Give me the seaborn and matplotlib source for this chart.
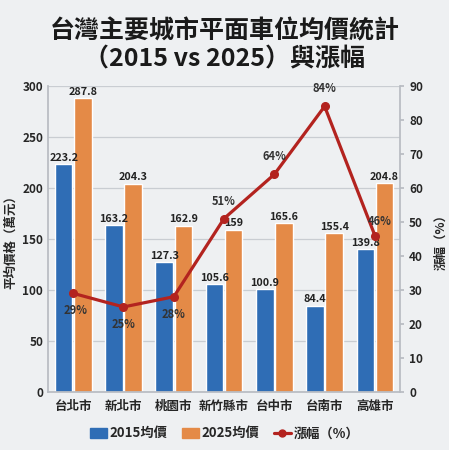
import numpy as np
import pandas as pd
import matplotlib
matplotlib.use("Agg")
import matplotlib.pyplot as plt
import seaborn as sns
from matplotlib.lines import Line2D
from matplotlib.patches import Patch

# data
cities = ["台北市", "新北市", "桃園市", "新竹縣市", "台中市", "台南市", "高雄市"]
price_2015 = [223.2, 163.2, 127.3, 105.6, 100.9, 84.4, 139.8]
price_2025 = [287.8, 204.3, 162.9, 159, 165.6, 155.4, 204.8]
growth = [29, 25, 28, 51, 64, 84, 46]
series = ["2015均價", "2025均價"]

BG = "#eef0f2"
BLUE = "#2f6db5"
ORANGE = "#e48a47"
RED = "#b3231f"

sns.set_theme(style="white")
plt.rcParams["font.family"] = ["Noto Sans CJK TC", "DejaVu Sans"]

df = pd.DataFrame({
    "city": cities * 2,
    "price": price_2015 + price_2025,
    "year": [series[0]] * len(cities) + [series[1]] * len(cities),
})

fig = plt.figure(figsize=(4.49, 4.5), dpi=100, facecolor=BG)
ax = fig.add_axes([0.107, 0.129, 0.784, 0.68])
ax.set_facecolor(BG)

sns.barplot(data=df, x="city", y="price", hue="year", order=cities,
            hue_order=series, palette=[BLUE, ORANGE], width=0.76, gap=0.08,
            saturation=1, legend=False, ax=ax)

for cont in ax.containers:
    ax.bar_label(cont, fmt="%g", padding=1, fontsize=7.8, fontweight="bold",
                 color="#222222")

ax.set_ylim(0, 300)
ax.set_yticks(range(0, 301, 50))
ax.set_xlim(-0.5, len(cities) - 0.5)
ax.yaxis.grid(True, color="#c9cdd2", linewidth=0.9)
ax.set_axisbelow(True)
ax.set_xlabel("")
ax.set_ylabel("平均價格（萬元）", fontsize=9, fontweight="bold")
ax.tick_params(axis="x", labelsize=9, length=0, pad=6)
ax.tick_params(axis="y", labelsize=8.5, length=0)
for lab in ax.get_xticklabels() + ax.get_yticklabels():
    lab.set_fontweight("bold")
ax.spines["top"].set_visible(False)
for s in ["left", "right", "bottom"]:
    ax.spines[s].set_color("#b8bcc2")

ax2 = ax.twinx()
x = np.arange(len(cities))
ax2.plot(x, growth, color=RED, linewidth=2.3, marker="o", markersize=5.5)
ax2.set_ylim(0, 90)
ax2.set_yticks(range(0, 91, 10))
ax2.tick_params(axis="y", labelsize=8.5, length=3, color="#b8bcc2")
for lab in ax2.get_yticklabels():
    lab.set_fontweight("bold")
ax2.set_ylabel("漲幅（%）", fontsize=9, fontweight="bold", rotation=90,
               labelpad=8)
for s in ["top", "left", "bottom", "right"]:
    ax2.spines[s].set_visible(False)

# percentage labels: below for first three, above for the rest
offsets = [(0.05, -3.2), (0, -3.2), (0, -3.2), (0, 3.2), (0, 3.2), (0, 3.2), (0.1, 2.2)]
for i, g in enumerate(growth):
    dx, dy = offsets[i]
    ax2.text(i + dx, g + dy, f"{g}%", ha="center",
             va="top" if dy < 0 else "bottom", fontsize=8,
             fontweight="bold", color="#333333")

fig.text(0.5, 0.958, "台灣主要城市平面車位均價統計\n（2015 vs 2025）與漲幅",
         ha="center", va="top", fontsize=18, fontweight="bold",
         linespacing=1.2, color="#1a1a1a")

handles = [Patch(color=BLUE, label=series[0]),
           Patch(color=ORANGE, label=series[1]),
           Line2D([0], [0], color=RED, linewidth=2.3, marker="o",
                  markersize=5, label="漲幅（%）")]
leg = fig.legend(handles=handles, loc="lower center", ncol=3, frameon=False,
                 bbox_to_anchor=(0.5, -0.005), fontsize=9.5, handlelength=1.3,
                 handleheight=0.8, columnspacing=1.1, handletextpad=0.2)
for t in leg.get_texts():
    t.set_fontweight("bold")

fig.savefig("out.png", dpi=100, facecolor=BG)
